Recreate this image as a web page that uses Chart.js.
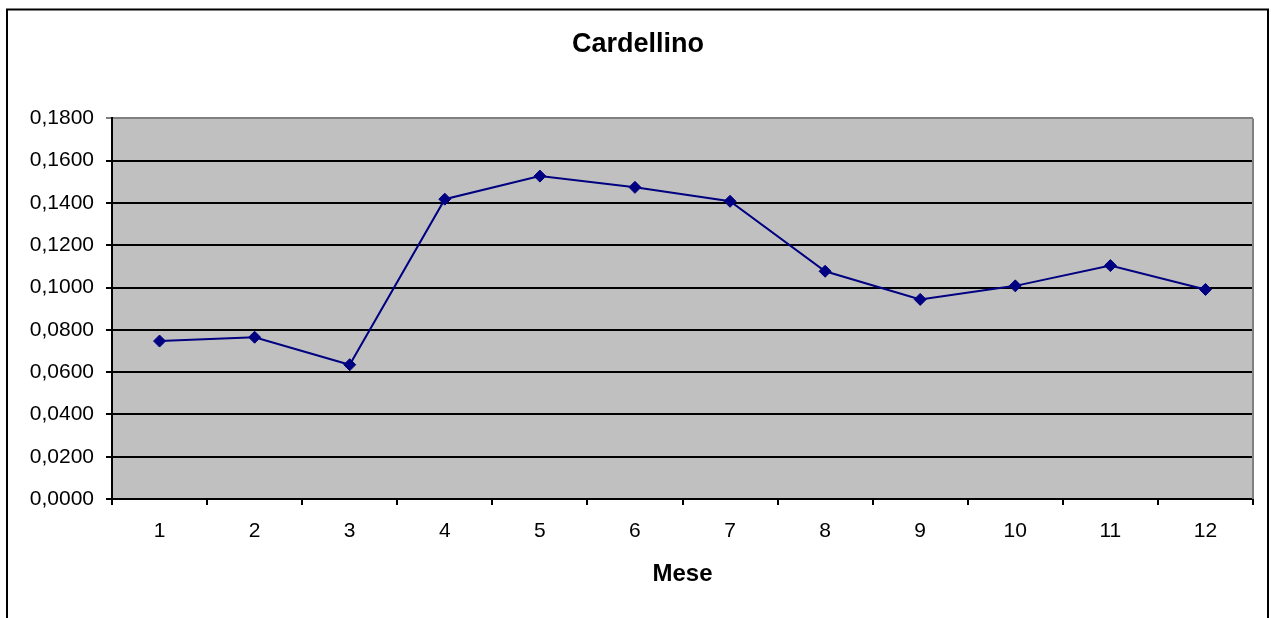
<!DOCTYPE html>
<html>
<head>
<meta charset="utf-8">
<script src="https://cdn.jsdelivr.net/npm/chart.js@4/dist/chart.umd.min.js"></script>
<style>
  html, body { margin: 0; padding: 0; background: #fff; }
  #wrap { width: 1271px; height: 618px; position: relative; }
</style>
</head>
<body>
<div id="wrap"><canvas id="cardChart"></canvas></div>
<script>
// months on the x axis
var mesi = ["1", "2", "3", "4", "5", "6", "7", "8", "9", "10", "11", "12"];
// values
var valori = [0.0747, 0.0765, 0.0635, 0.1418, 0.1527, 0.1474, 0.1408, 0.1077, 0.0944, 0.1008, 0.1104, 0.0991];
var titolo = "Cardellino";
var titoloAsse = "Mese";

// paints the grey plot area and the outer frame
var excelLook = {
  id: "excelLook",
  beforeDraw: function(chart) {
    var c = chart.ctx, a = chart.chartArea;
    c.save();
    c.fillStyle = "#ffffff";
    c.fillRect(0, 0, chart.width, chart.height);
    c.fillStyle = "#c0c0c0";
    c.fillRect(a.left, a.top, a.right - a.left, a.bottom - a.top);
    c.restore();
  },
  afterDraw: function(chart) {
    var c = chart.ctx, a = chart.chartArea;
    c.save();
    // grey border on the right side of the plot
    c.strokeStyle = "#808080";
    c.lineWidth = 2;
    c.beginPath();
    c.moveTo(a.right, a.top);
    c.lineTo(a.right, a.bottom);
    c.stroke();
    // outer black frame
    c.strokeStyle = "#000000";
    c.lineWidth = 2;
    c.beginPath();
    c.moveTo(7, 640);
    c.lineTo(7, 9.5);
    c.lineTo(1268, 9.5);
    c.lineTo(1268, 640);
    c.stroke();
    c.restore();
  }
};

var ctx = document.getElementById("cardChart").getContext("2d");

var cChart = new Chart(ctx, {
  type: "line",
  data: {
    labels: mesi,
    datasets: [
      {
        label: titolo,
        data: valori,
        borderColor: "#000080",
        backgroundColor: "#000080",
        borderWidth: 2,
        pointStyle: "rectRot",
        pointRadius: 6,
        pointHoverRadius: 6,
        pointBorderWidth: 1,
        tension: 0,
        fill: false
      }
    ]
  },
  options: {
    responsive: true,
    maintainAspectRatio: false,
    animation: false,
    layout: { padding: { left: 23, right: 18, top: 0, bottom: 0 } },
    plugins: {
      legend: { display: false },
      tooltip: { enabled: false },
      title: {
        display: true,
        text: titolo,
        color: "#000",
        font: { family: "'Liberation Sans', Arial, sans-serif", size: 27, weight: "bold" },
        padding: { top: 28, bottom: 58 }
      }
    },
    scales: {
      x: {
        offset: true,
        grid: {
          offset: true,
          drawOnChartArea: false,
          drawTicks: true,
          tickLength: 6,
          color: "#000",
          lineWidth: 2
        },
        border: { color: "#000", width: 2 },
        ticks: {
          color: "#000",
          padding: 14,
          maxRotation: 0,
          font: { family: "'Liberation Sans', Arial, sans-serif", size: 21 }
        },
        title: {
          display: true,
          text: titoloAsse,
          color: "#000",
          font: { family: "'Liberation Sans', Arial, sans-serif", size: 24, weight: "bold" },
          padding: { top: 29, bottom: 29 }
        },
        afterFit: function(scale) { scale.height = 119; }
      },
      y: {
        min: 0,
        max: 0.18,
        grid: {
          drawTicks: true,
          tickLength: 6,
          lineWidth: 2,
          color: function(context) {
            return context.tick && context.tick.value > 0.179 ? "#808080" : "#000";
          }
        },
        border: { color: "#000", width: 2 },
        ticks: {
          stepSize: 0.02,
          color: "#000",
          padding: 12,
          font: { family: "'Liberation Sans', Arial, sans-serif", size: 21 },
          callback: function(v) { return v.toFixed(4).replace(".", ","); }
        },
        afterFit: function(scale) { scale.width = 89; }
      }
    }
  },
  plugins: [excelLook]
});
</script>
</body>
</html>
